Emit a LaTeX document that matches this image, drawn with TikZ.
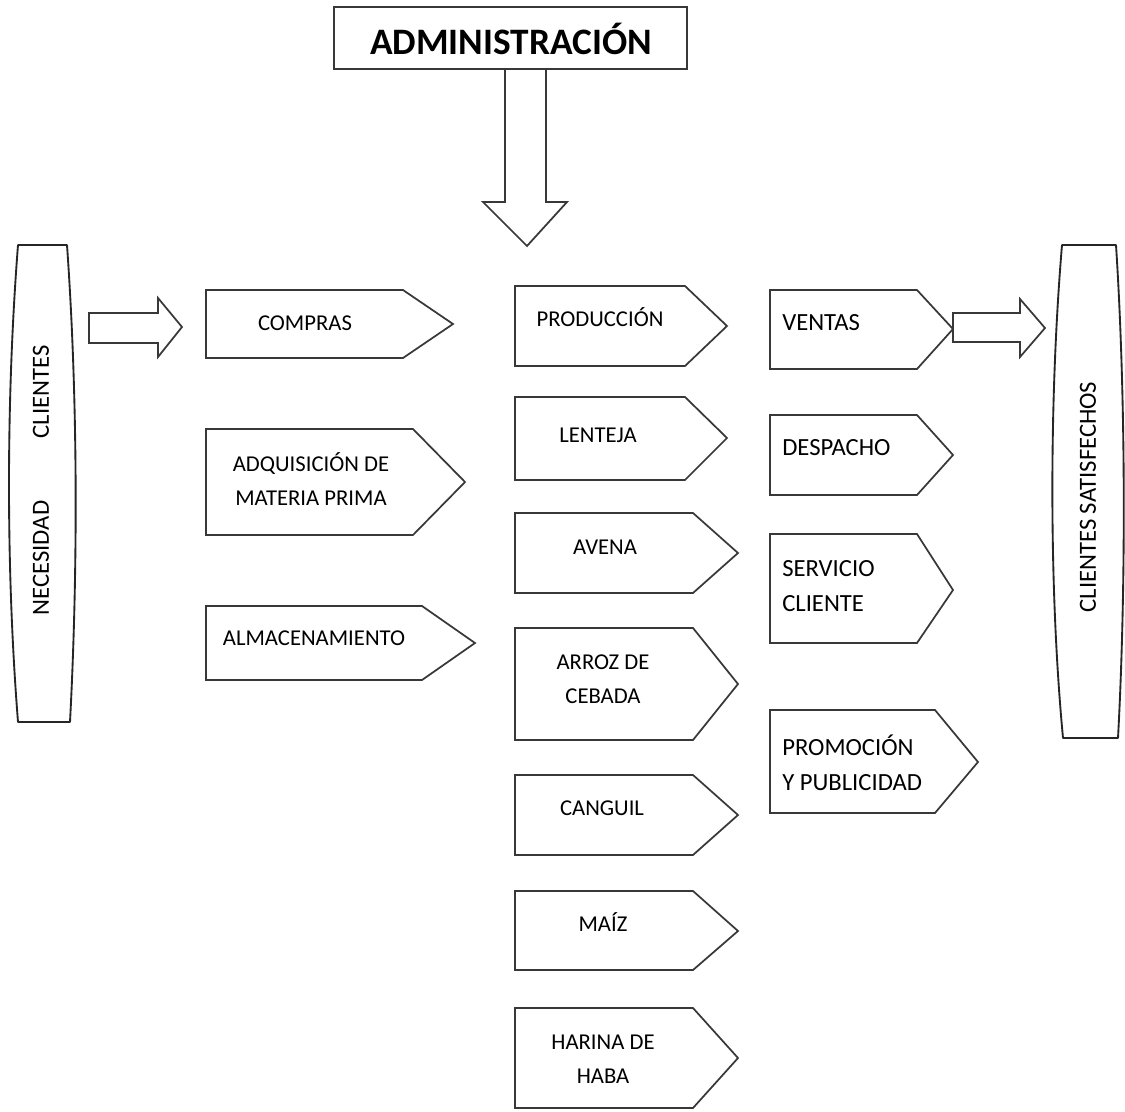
\documentclass[tikz,border=0pt]{standalone}
\usepackage{fontspec}
\setmainfont{Carlito}
\begin{document}
\begin{tikzpicture}[x=0.75pt,y=-0.75pt,
  shp/.style={draw=black!78,line width=1.3pt,fill=white,line join=miter},
  pill/.style={draw=black!85,line width=1.4pt,fill=white,line join=round},
  lbl/.style={inner sep=0pt,align=center,font=\fontsize{17}{25.5}\selectfont},
  lbll/.style={inner sep=0pt,align=left,anchor=west,font=\fontsize{18.5}{26}\selectfont},
  rot/.style={inner sep=0pt,rotate=90,font=\fontsize{18.5}{22}\selectfont}]
\useasboundingbox (0,0) rectangle (1125,1111);
% title
\draw[shp] (334,7) rectangle (687,69);
\node[inner sep=0pt,font=\fontsize{28}{30}\selectfont\bfseries] (adm) at (511,39) {ADMINISTRACIÓN};
\draw[shp] (505,69) -- (546,69) -- (546,202) -- (567,202) -- (527,246) -- (483,202) -- (505,202) -- cycle;
% left pill
\draw[pill] (18,722) .. controls (6,570) and (6,400) .. (18,245) -- (67,245) .. controls (78,400) and (78,570) .. (70,722) -- cycle;
\node[rot] (nec) at (41,558) {NECESIDAD};
\node[rot] (cli) at (41,392) {CLIENTES};
% right pill
\draw[pill] (1063,738) .. controls (1049,590) and (1049,400) .. (1062,245) -- (1116,245) .. controls (1126,400) and (1126,590) .. (1118,738) -- cycle;
\node[rot] (sat) at (1088,497) {CLIENTES SATISFECHOS};
% block arrows
\draw[shp] (89,313) -- (158,313) -- (158,298) -- (182,327) -- (158,357) -- (158,343) -- (89,343) -- cycle;
% left column
\draw[shp] (206,290) -- (403,290) -- (453,324) -- (403,358) -- (206,358) -- cycle;
\node[lbl] (compras) at (305,323) {COMPRAS};
\draw[shp] (206,429) -- (413,429) -- (465,482) -- (413,535) -- (206,535) -- cycle;
\node[lbl] (adq) at (311,479) {ADQUISICIÓN DE\\MATERIA PRIMA};
\draw[shp] (206,606) -- (422,606) -- (475,643) -- (422,680) -- (206,680) -- cycle;
\node[lbl] (alm) at (314,638) {ALMACENAMIENTO};
% middle column
\draw[shp] (515,286) -- (685,286) -- (727,326) -- (685,366) -- (515,366) -- cycle;
\node[lbl] (prod) at (600,317) {PRODUCCIÓN};
\draw[shp] (515,397) -- (685,397) -- (727,438) -- (685,480) -- (515,480) -- cycle;
\node[lbl] (lent) at (598,435) {LENTEJA};
\draw[shp] (515,513) -- (693,513) -- (738,553) -- (693,593) -- (515,593) -- cycle;
\node[lbl] (avena) at (605,547) {AVENA};
\draw[shp] (515,628) -- (693,628) -- (738,684) -- (693,740) -- (515,740) -- cycle;
\node[lbl] (arroz) at (603,679) {ARROZ DE\\CEBADA};
\draw[shp] (515,775) -- (693,775) -- (738,815) -- (693,855) -- (515,855) -- cycle;
\node[lbl] (cang) at (602,808) {CANGUIL};
\draw[shp] (515,891) -- (693,891) -- (738,931) -- (693,970) -- (515,970) -- cycle;
\node[lbl] (maiz) at (603,922) {MAÍZ};
\draw[shp] (515,1008) -- (693,1008) -- (738,1058) -- (693,1108) -- (515,1108) -- cycle;
\node[lbl] (harina) at (603,1059) {HARINA DE\\HABA};
% right column
\draw[shp] (953,313) -- (1020,313) -- (1020,299) -- (1045,328) -- (1020,357) -- (1020,342) -- (953,342) -- cycle;
\draw[shp] (770,290) -- (917,290) -- (953,329) -- (917,369) -- (770,369) -- cycle;
\node[lbll] (ventas) at (782,323) {VENTAS};
\draw[shp] (770,415) -- (917,415) -- (953,455) -- (917,495) -- (770,495) -- cycle;
\node[lbll] (desp) at (782,448) {DESPACHO};
\draw[shp] (770,534) -- (917,534) -- (953,590) -- (917,643) -- (770,643) -- cycle;
\node[lbll] (serv) at (782,586) {SERVICIO\\CLIENTE};
\draw[shp] (770,710) -- (935,710) -- (978,762) -- (935,813) -- (770,813) -- cycle;
\node[lbll] (promo) at (782,763) {PROMOCIÓN\\Y PUBLICIDAD};
\end{tikzpicture}
\end{document}
